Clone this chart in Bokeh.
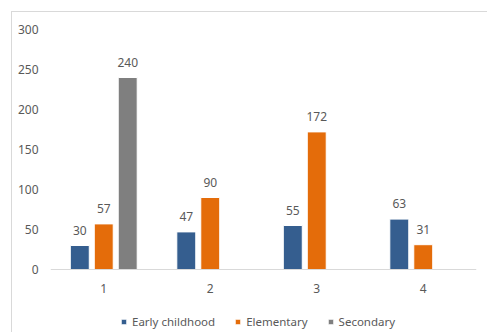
from bokeh.plotting import figure
from bokeh.models import ColumnDataSource, FactorRange, Legend, LegendItem, LabelSet
from bokeh.core.properties import value
from bokeh.transform import dodge
from bokeh.embed import file_html
from bokeh.resources import INLINE

categories = ["1", "2", "3", "4"]
early = [30, 47, 55, 63]
elementary = [57, 90, 172, 31]
secondary = [240, None, None, None]
series_names = ["Early childhood", "Elementary", "Secondary"]
colors = ["#355E8F", "#E46C0A", "#7F7F7F"]
offsets = [-0.225, 0.0, 0.225]
y_ticks = [0, 50, 100, 150, 200, 250, 300]

FONT = "Noto Sans"
TXT = "#595959"
FS = "12px"

p = figure(x_range=FactorRange(*categories, range_padding=0), y_range=(-80, 300),
           width=476, height=321, output_backend="svg", toolbar_location=None,
           min_border_left=38, min_border_right=12, min_border_top=17, min_border_bottom=0)
p.styles = {"margin-left": "11px", "margin-top": "11px",
            "border-left": "1px solid #d9d9d9", "border-top": "1px solid #d9d9d9"}
p.outline_line_color = None
p.grid.visible = False

p.xaxis.fixed_location = 0
p.xaxis.axis_line_color = "#d9d9d9"
p.xaxis.major_tick_line_color = None
p.xaxis.minor_tick_line_color = None
p.xaxis.major_tick_out = 0
p.xaxis.major_tick_in = 0
p.xaxis.major_label_text_color = TXT
p.xaxis.major_label_text_font = FONT
p.xaxis.major_label_text_font_size = FS
p.xaxis.major_label_standoff = 14

p.yaxis.axis_line_color = None
p.yaxis.major_tick_line_color = None
p.yaxis.minor_tick_line_color = None
p.yaxis.major_tick_out = 0
p.yaxis.major_tick_in = 0
p.yaxis.major_label_text_color = TXT
p.yaxis.major_label_text_font = FONT
p.yaxis.major_label_text_font_size = FS
p.yaxis.major_label_standoff = 12
p.yaxis.ticker = y_ticks

items = []
for name, vals, col, off in zip(series_names, [early, elementary, secondary], colors, offsets):
    xs = [c for c, v in zip(categories, vals) if v is not None]
    ys = [v for v in vals if v is not None]
    src = ColumnDataSource(dict(x=xs, y=ys, lab=[str(v) for v in ys]))
    r = p.vbar(x=dodge("x", off, range=p.x_range), top="y", width=0.178, source=src,
               fill_color=col, line_color="white", line_width=1)
    items.append(LegendItem(label=name, renderers=[r]))
    labels = LabelSet(x=dodge("x", off, range=p.x_range), y="y", text="lab", source=src,
                      text_align="center", text_baseline="bottom", y_offset=11,
                      text_color=TXT, text_font=value(FONT), text_font_size=value(FS))
    p.add_layout(labels)

legend = Legend(items=items, orientation="horizontal", location=(70, 4),
                label_text_font=FONT, label_text_font_size="11.5px", label_text_color=TXT,
                glyph_width=7, glyph_height=7, label_standoff=5, spacing=19,
                padding=0, margin=0, border_line_color=None, background_fill_alpha=0)
p.add_layout(legend)

open("out.html", "w").write(file_html(p, INLINE))
